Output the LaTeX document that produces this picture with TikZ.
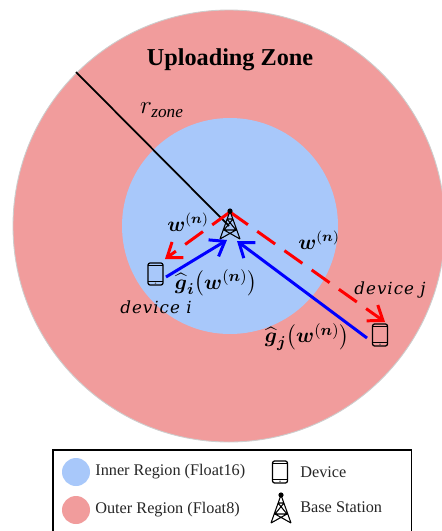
\documentclass[tikz,border=0pt]{standalone}
\usepackage{amsmath}
\usepackage{fontspec}
\setmainfont{Liberation Serif}
\newfontfamily\devfont{DejaVu Serif}
\usetikzlibrary{arrows.meta}
\definecolor{innerblue}{RGB}{168,200,250}
\definecolor{outerred}{RGB}{241,156,156}
\definecolor{rimgray}{RGB}{205,205,205}
\tikzset{
  x=0.02cm,y=-0.02cm,
  inner/.style={fill=innerblue,draw=none},
  outer/.style={fill=outerred,draw=rimgray,line width=0.5pt},
  down/.style={draw=red,line width=1.7pt,dash pattern=on 12.5pt off 6.5pt,-{Straight Barb[length=7.5pt,width=11pt,line width=1.7pt]}},
  up/.style={draw=blue,line width=1.7pt,-{Straight Barb[length=7.5pt,width=11pt,line width=1.7pt]}},
  lab/.style={inner sep=0pt,anchor=center},
  leg/.style={inner sep=0pt,anchor=west,font=\fontsize{9.25pt}{10pt}\selectfont,text=black!85},
  devlab/.style={inner sep=0pt,anchor=center,font=\fontsize{9.5pt}{11pt}\selectfont\devfont\itshape\addfontfeature{LetterSpace=6},text=black},
  phonepic/.pic={
    \draw[black,line width=0.7pt,rounded corners=1.2pt] (-7.5,-11) rectangle (7.5,11);
    \draw[black,line width=0.45pt] (-7.5,7.5) -- (7.5,7.5);
    \draw[black,line width=0.45pt] (-7.5,-8.5) -- (7.5,-8.5);
    \fill[black!60] (0,9.2) circle (0.8);
  },
  towerpic/.pic={
    \fill[black] (0,-28) circle (2.6);
    \draw[black,line width=0.6pt] (0,-28) -- (-10,0) (0,-28) -- (10,0)
      (-3,-20) -- (3,-20) (-3,-20) -- (6,-9) (3,-20) -- (-6,-9) (-6,-9) -- (6,-9)
      (-6,-9) -- (10,0) (6,-9) -- (-10,0);
  }
}
\begin{document}
\begin{tikzpicture}
\useasboundingbox (0,0) rectangle (442,531);
\clip (0,0) rectangle (442,531);
\fill[white] (0,0) rectangle (442,531);
% regions
\node[outer,circle,minimum size=432*0.02cm,inner sep=0pt] (zone) at (229,226) {};
\node[inner,circle,minimum size=216*0.02cm,inner sep=0pt] (innerzone) at (230,226) {};
\node[inner sep=0pt,font=\fontsize{13.8pt}{16pt}\selectfont\bfseries] (title) at (230,60) {Uploading Zone};
% anchors
\coordinate (rim) at (76,72);
\coordinate (mid) at (229,226);
\coordinate (apex) at (230,212);
\coordinate (ti) at (165,259);
\coordinate (tj) at (385,322);
\coordinate (fi) at (166,277);
\coordinate (ei) at (227,240);
\coordinate (fj) at (367,338);
\coordinate (ej) at (237,241);
\draw[black,line width=1pt] (rim) -- (mid);
\pic at (155.5,274) {phonepic};
\pic at (380,335) {phonepic};
\draw[down] (apex) -- (ti);
\draw[down] (apex) -- (tj);
\pic at (230,239) {towerpic};
\draw[up] (fi) -- (ei);
\draw[up] (fj) -- (ej);
% labels
\node[lab,font=\fontsize{14pt}{16pt}\selectfont] (rz) at (162,110) {$r_{\mathit{zone}}$};
\node[lab,font=\fontsize{12pt}{14pt}\selectfont] (wa) at (188,222) {$\boldsymbol{w}^{(\boldsymbol{n})}$};
\node[lab,font=\fontsize{12pt}{14pt}\selectfont] (wb) at (319,240) {$\boldsymbol{w}^{(\boldsymbol{n})}$};
\node[lab,font=\fontsize{12.8pt}{15pt}\selectfont] (gi) at (216,283) {$\widehat{\boldsymbol{g}}_{\boldsymbol{i}}\bigl(\boldsymbol{w}^{(\boldsymbol{n})}\bigr)$};
\node[lab,font=\fontsize{12.8pt}{15pt}\selectfont] (gj) at (307,337) {$\widehat{\boldsymbol{g}}_{\boldsymbol{j}}\bigl(\boldsymbol{w}^{(\boldsymbol{n})}\bigr)$};
\node[devlab] (di) at (156,307) {device i};
\node[devlab] (dj) at (390,290) {device j};
% legend
\draw[black,line width=1pt,fill=white] (53,450) rectangle (411.5,560);
\node[fill=innerblue,circle,minimum size=28*0.02cm,inner sep=0pt] (k1) at (76,472) {};
\node[fill=outerred,circle,minimum size=28*0.02cm,inner sep=0pt] (k2) at (76,510) {};
\node[leg] (t1) at (95,472) {Inner Region (Float16)};
\node[leg] (t2) at (95,510) {Outer Region (Float8)};
\pic at (280,472) {phonepic};
\pic at (281,523) {towerpic};
\node[leg] (t3) at (300,472) {Device};
\node[leg] (t4) at (300,507) {Base Station};
\end{tikzpicture}
\end{document}
